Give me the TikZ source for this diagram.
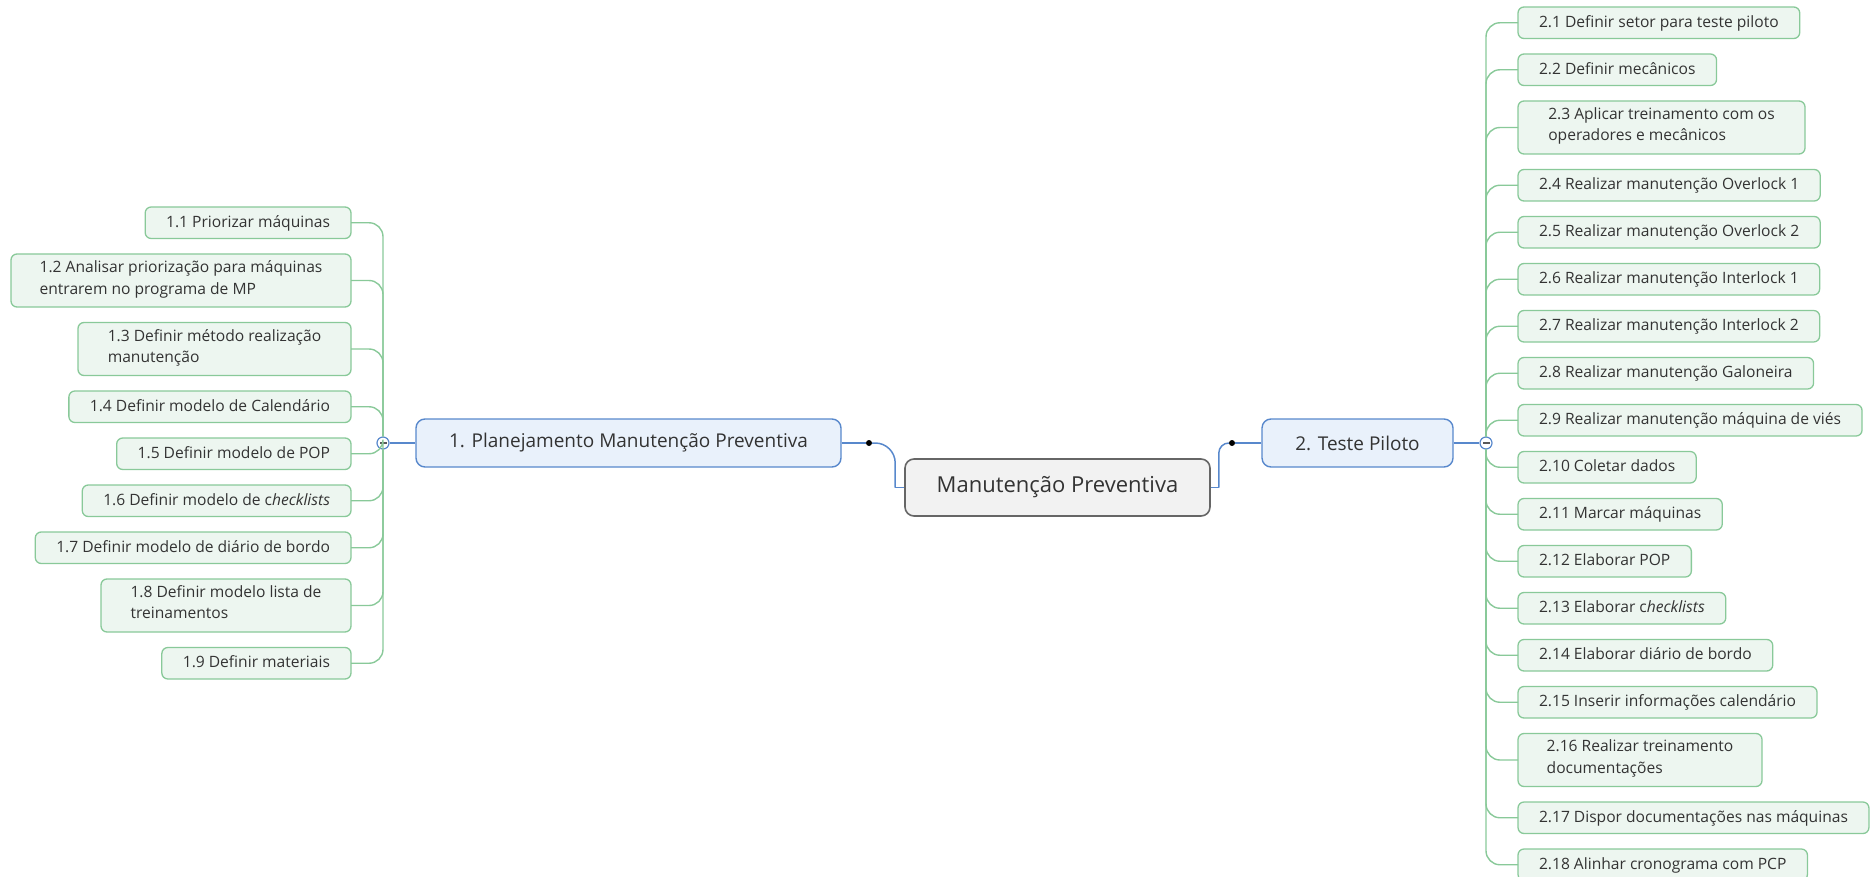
\documentclass[tikz,border=0pt]{standalone}
\usepackage{fontspec}
\setmainfont{Open Sans}
\usetikzlibrary{positioning}
\definecolor{leafgreen}{RGB}{137,201,153}
\definecolor{leaffill}{RGB}{237,246,240}
\definecolor{mainblue}{RGB}{88,136,204}
\definecolor{topicfill}{RGB}{233,241,251}
\definecolor{rootfill}{RGB}{242,242,242}
\definecolor{inkgray}{RGB}{51,51,51}

\begin{document}
\begin{tikzpicture}[x=1pt,y=-1pt,
    leaf/.style={draw=leafgreen,fill=leaffill,line width=1.3pt,rounded corners=6pt,
      align=left,inner xsep=21pt,inner ysep=5pt,outer sep=0pt,text=inkgray,
      font=\fontsize{15.6}{21.5}\selectfont,execute at begin node=\strut},
    topic/.style={draw=mainblue,fill=topicfill,line width=1.4pt,rounded corners=9pt,
      minimum height=48pt,text=inkgray,font=\fontsize{19}{23}\selectfont},
    central/.style={draw=black!60,fill=rootfill,line width=1.6pt,rounded corners=9pt,
      minimum width=305pt,minimum height=57pt,text=inkgray,font=\fontsize{22}{26}\selectfont},
    link/.style={draw=mainblue,line width=1.5pt},
    branch/.style={draw=leafgreen,line width=1.4pt,rounded corners=14pt},
    fold/.style={circle,draw=mainblue,fill=white,line width=1.2pt,minimum size=12pt,inner sep=0pt,
      path picture={\fill[black!65] ([xshift=-3.5pt,yshift=-1.2pt]path picture bounding box.center)
        rectangle ([xshift=3.5pt,yshift=1.2pt]path picture bounding box.center);}},
    knot/.style={circle,fill=black,minimum size=6pt,inner sep=0pt}]
  \useasboundingbox (0,0) rectangle (1870,877);
  % central topic and the two main topics
  \node[central] (root) at (1057.5,487.5) {Manutenção Preventiva};
  \node[topic,minimum width=425pt] (plan) at (628.5,443) {1. Planejamento Manutenção Preventiva};
  \node[topic,minimum width=191pt] (pilot) at (1357.5,443) {2. Teste Piloto};
  \node[knot] (lknot) at (869,443) {};
  \node[knot] (rknot) at (1232,443) {};
  \node[fold] (lfold) at (383,443) {};
  \node[fold] (rfold) at (1486,443) {};
  \coordinate (lbend) at ([xshift=-9pt]root.west);
  \coordinate (rbend) at ([xshift=8pt]root.east);
  \draw[link,line width=2pt] (plan.east) -- (lknot);
  \draw[link,rounded corners=20pt] (lknot) -| (lbend);
  \draw[link] (lbend) -- (root.west);
  \draw[link,line width=2pt] (pilot.west) -- (rknot);
  \draw[link,rounded corners=10pt] (rknot) -| (rbend);
  \draw[link] (rbend) -- (root.east);
  \draw[link] (plan.west) -- (lfold);
  \draw[link] (pilot.east) -- (rfold);
  % left subtopics
  \foreach \w/\h/\t [count=\i] in {0/31.5/1.1 Priorizar máquinas,
      340/53/{1.2 Analisar priorização para máquinas\\entrarem no programa de MP},
      273/53/{1.3 Definir método realização\\manutenção},
      0/31.5/1.4 Definir modelo de Calendário,
      0/31.5/1.5 Definir modelo de POP,
      0/31.5/1.6 Definir modelo de c\textit{hecklists},
      0/31.5/1.7 Definir modelo de diário de bordo,
      250/53/{1.8 Definir modelo lista de\\treinamentos},
      0/31.5/1.9 Definir materiais}{
    \ifnum\i=1
      \node[leaf,minimum width=\w pt,minimum height=\h pt,anchor=north east] (l\i) at (351,207) {\t};
    \else
      \pgfmathtruncatemacro\prev{\i-1}
      \node[leaf,minimum width=\w pt,minimum height=\h pt,below=15.5pt of l\prev.south east,anchor=north east] (l\i) {\t};
    \fi
    \draw[branch] (lfold) |- (l\i.east);
  }
  % right subtopics
  \foreach \w/\h/\t [count=\i] in {0/31.5/2.1 Definir setor para teste piloto,
      0/31.5/2.2 Definir mecânicos,
      287/53/{2.3 Aplicar treinamento com os\\operadores e mecânicos},
      0/31.5/2.4 Realizar manutenção Overlock 1,
      0/31.5/2.5 Realizar manutenção Overlock 2,
      0/31.5/2.6 Realizar manutenção Interlock 1,
      0/31.5/2.7 Realizar manutenção Interlock 2,
      0/31.5/2.8 Realizar manutenção Galoneira,
      0/31.5/2.9 Realizar manutenção máquina de viés,
      0/31.5/2.10 Coletar dados,
      0/31.5/2.11 Marcar máquinas,
      0/31.5/2.12 Elaborar POP,
      0/31.5/2.13 Elaborar c\textit{hecklists},
      0/31.5/2.14 Elaborar diário de bordo,
      0/31.5/2.15 Inserir informações calendário,
      244/53/{2.16 Realizar treinamento\\documentações},
      0/31.5/2.17 Dispor documentações nas máquinas,
      0/31.5/2.18 Alinhar cronograma com PCP}{
    \ifnum\i=1
      \node[leaf,minimum width=\w pt,minimum height=\h pt,anchor=north west] (r\i) at (1518,7) {\t};
    \else
      \pgfmathtruncatemacro\prev{\i-1}
      \node[leaf,minimum width=\w pt,minimum height=\h pt,below=15.5pt of r\prev.south west,anchor=north west] (r\i) {\t};
    \fi
    \draw[branch] (rfold) |- (r\i.west);
  }
\end{tikzpicture}
\end{document}
